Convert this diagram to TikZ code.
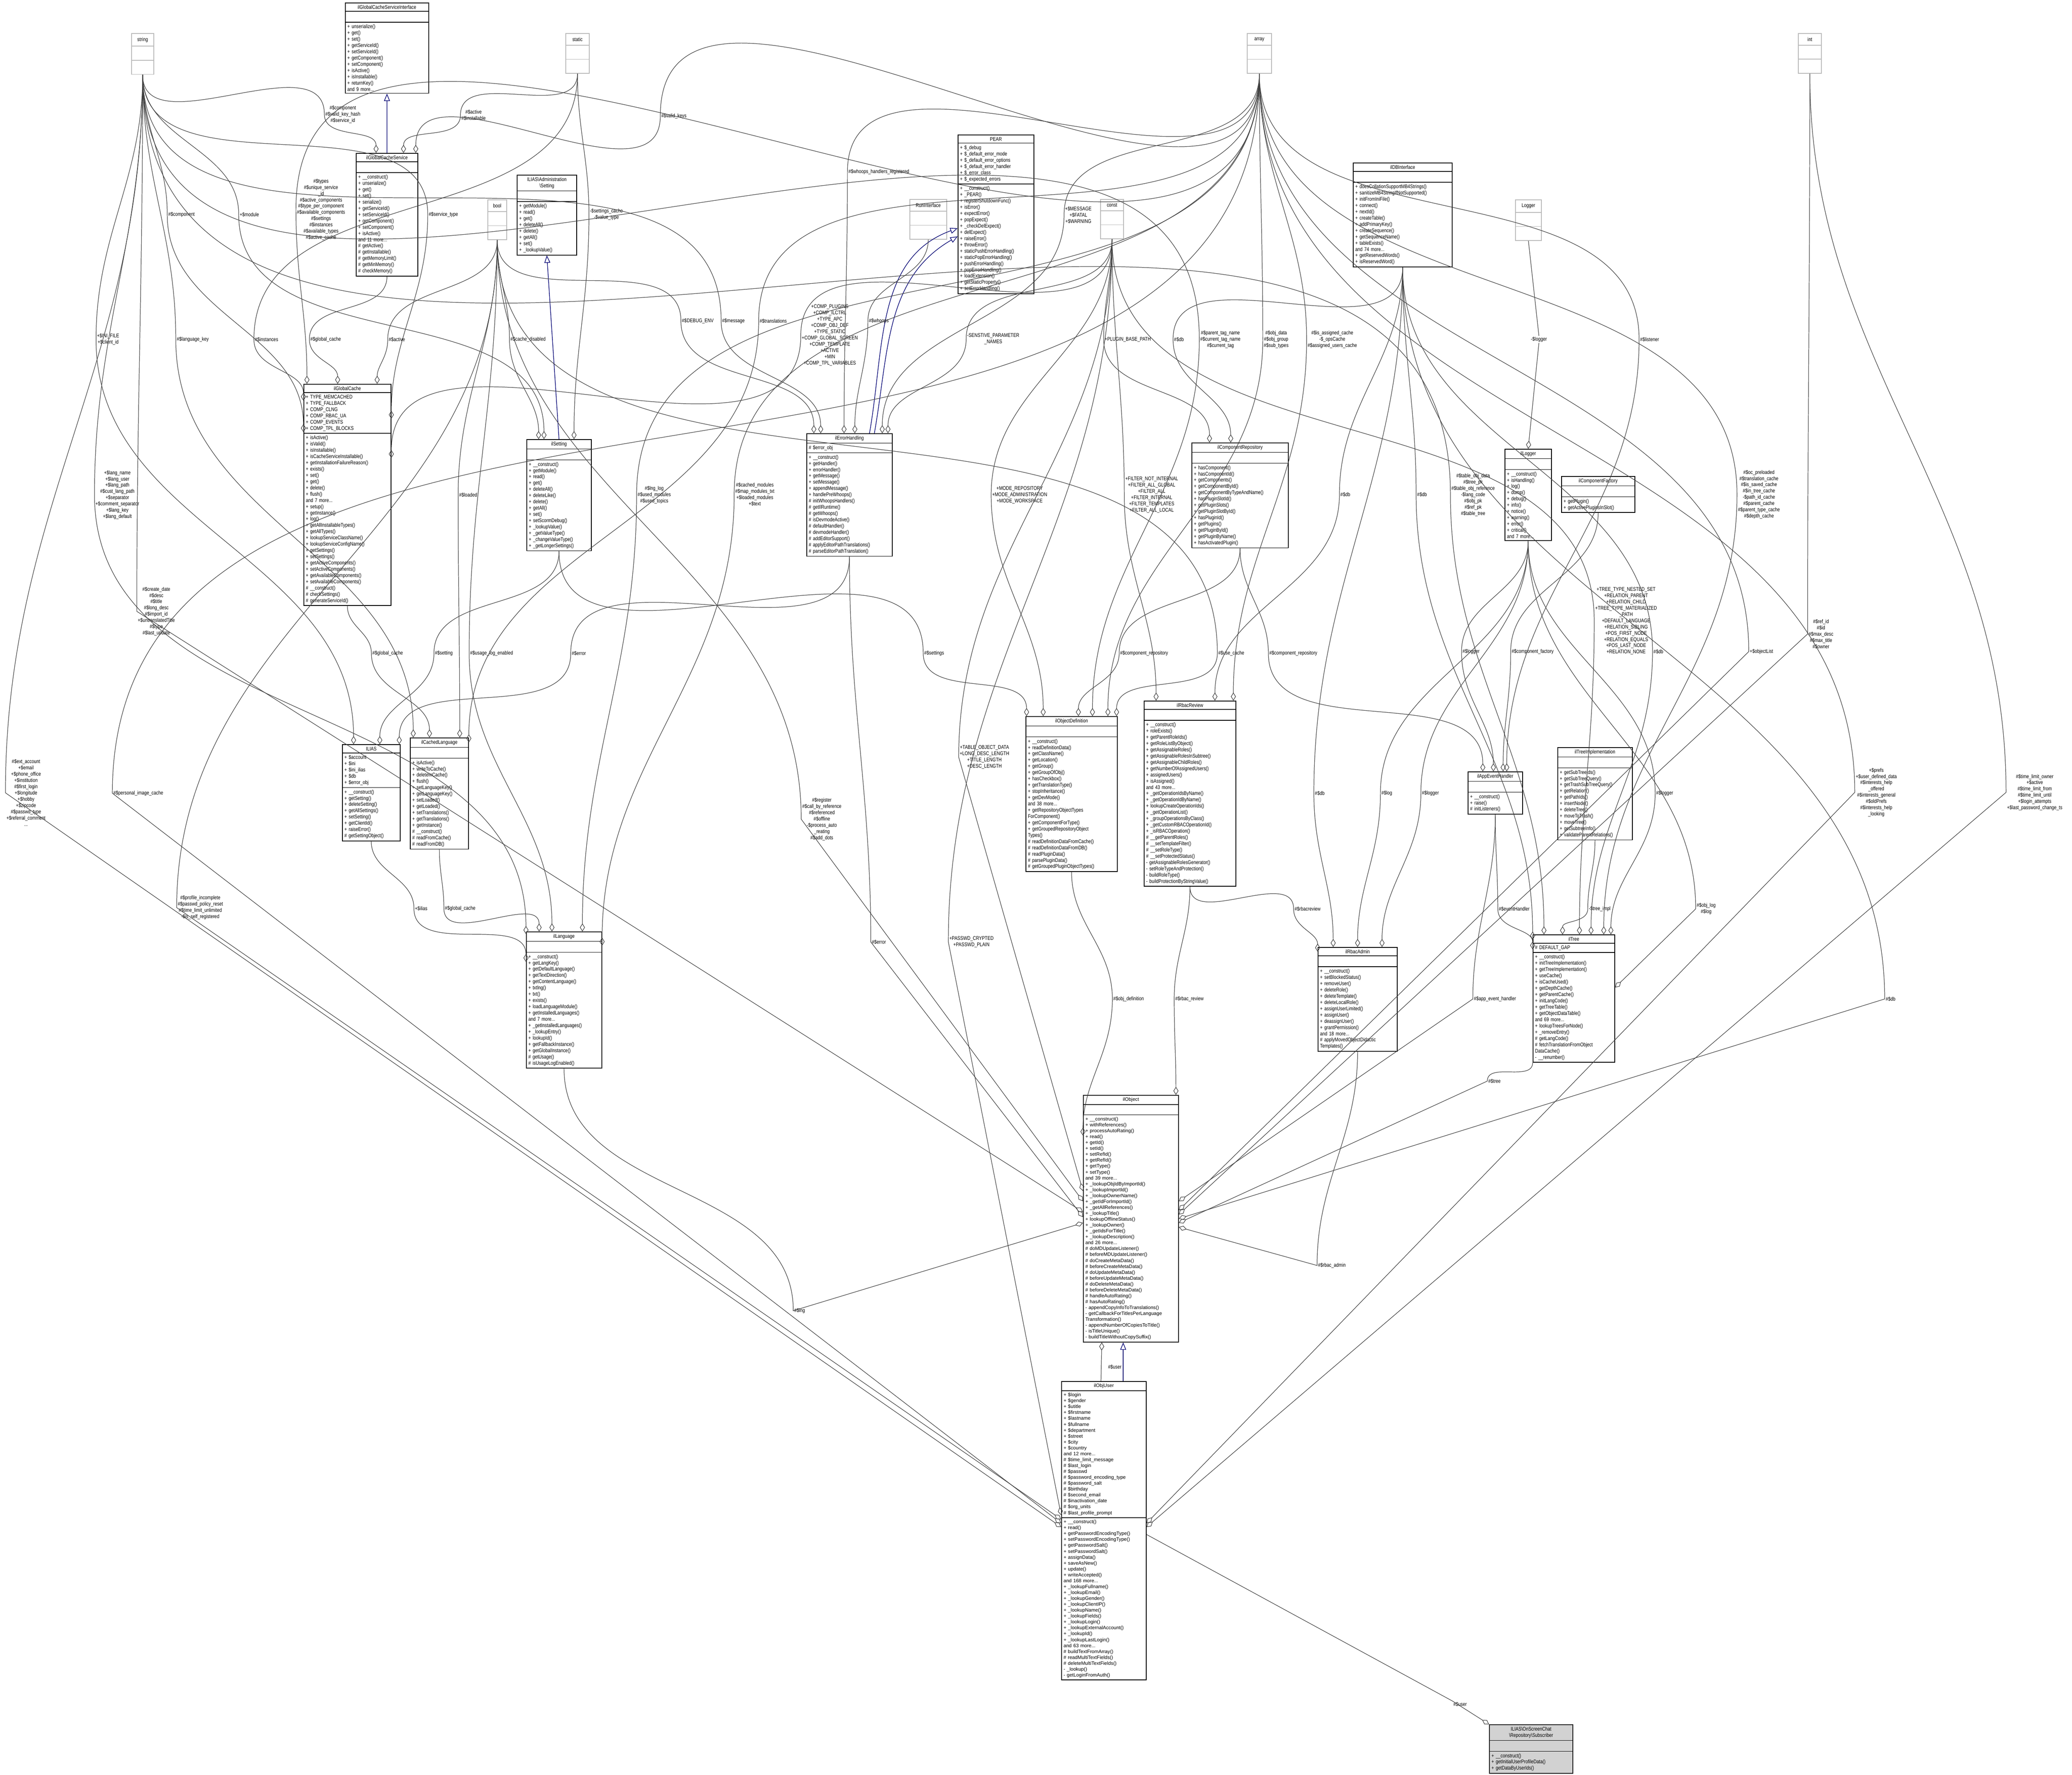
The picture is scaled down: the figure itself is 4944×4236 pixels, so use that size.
\documentclass[tikz,border=0pt]{standalone}
\usepackage{fontspec}
\setmainfont{Liberation Sans}[FakeStretch=0.82]
\newfontfamily\widefont{Liberation Sans}
\usetikzlibrary{shapes.multipart,arrows.meta,calc}
\tikzset{
 cls/.style={rectangle split, rectangle split parts=3, draw, line width=0.5pt, anchor=north west,
   inner xsep=1.4pt, inner ysep=1.3pt, font=\fontsize{3.6}{4.25}\selectfont, align=left},
 wcls/.style={cls, font=\widefont\fontsize{3.3}{4.0}\selectfont},
 gbox/.style={rectangle split, rectangle split parts=3, draw=gray!55, line width=0.5pt, anchor=north west,
   inner xsep=1.4pt, inner ysep=2.4pt, font=\fontsize{3.6}{4.25}\selectfont, align=center},
 lbl/.style={font=\fontsize{3.6}{4.25}\selectfont, align=center, inner sep=0.5pt},
 agg/.style={draw=black!75, line width=0.35pt, -{Diamond[open,length=5.5pt,width=3.4pt]}},
 inh/.style={draw=blue!45!black, line width=0.4pt, -{Triangle[open,length=5pt,width=4pt]}}
}
\newcommand\ed[3]{\draw[agg] (#1) to[out=-90,in=90] (#2) to[out=-90,in=90] (#3);}
\newcommand\eds[3]{\draw[agg] (#1) to[out=-90,in=90] (#2) -- (#3);}
\begin{document}
\begin{tikzpicture}[x=0.01cm,y=-0.01cm]
\fill[white] (0,0) rectangle (4944,4236);
\useasboundingbox (0,0) rectangle (4944,4236);

% ---------- gray type boxes
\node[gbox,minimum width=0.53cm] (string) at (313,79) {string\nodepart{second}\strut\nodepart{third}\strut};
\node[gbox,minimum width=0.56cm] (static) at (1349,79) {static\nodepart{second}\strut\nodepart{third}\strut};
\node[gbox,minimum width=0.45cm] (bool) at (1163,476) {bool\nodepart{second}\strut\nodepart{third}\strut};
\node[gbox,minimum width=0.88cm] (run) at (2170,475) {RunInterface\nodepart{second}\strut\nodepart{third}\strut};
\node[gbox,minimum width=0.55cm] (const) at (2625,475) {const\nodepart{second}\strut\nodepart{third}\strut};
\node[gbox,minimum width=0.58cm] (array) at (2975,79) {array\nodepart{second}\strut\nodepart{third}\strut};
\node[gbox,minimum width=0.55cm] (int) at (4290,79) {int\nodepart{second}\strut\nodepart{third}\strut};
\node[gbox,minimum width=0.62cm] (Logger) at (3615,476) {Logger\nodepart{second}\strut\nodepart{third}\strut};

% ---------- classes
\node[cls,text width=1.89cm] (gcsi) at (823,6) {{\centering ilGlobalCacheServiceInterface\par}\nodepart{second}\strut\nodepart{third}+ unserialize()\\+ get()\\+ set()\\+ getServiceId()\\+ setServiceId()\\+ getComponent()\\+ setComponent()\\+ isActive()\\+ isInstallable()\\+ returnKey()\\and 9 more...};

\node[cls,text width=1.37cm] (gcs) at (849,365) {{\centering ilGlobalCacheService\par}\nodepart{second}\strut\nodepart{third}+ \_\_construct()\\+ unserialize()\\+ get()\\+ set()\\+ serialize()\\+ getServiceId()\\+ setServiceId()\\+ getComponent()\\+ setComponent()\\+ isActive()\\and 11 more...\\\# getActive()\\\# getInstallable()\\\# getMemoryLimit()\\\# getMinMemory()\\\# checkMemory()};

\node[cls,text width=1.32cm] (adms) at (1233,417) {{\centering ILIAS\textbackslash Administration\\\textbackslash Setting\par}\nodepart{second}\strut\nodepart{third}+ getModule()\\+ read()\\+ get()\\+ deleteAll()\\+ delete()\\+ getAll()\\+ set()\\+ \_lookupValue()};

\node[cls,text width=1.98cm] (gc) at (724,916) {{\centering ilGlobalCache\par}\nodepart{second}+ TYPE\_MEMCACHED\\+ TYPE\_FALLBACK\\+ COMP\_CLNG\\+ COMP\_RBAC\_UA\\+ COMP\_EVENTS\\+ COMP\_TPL\_BLOCKS\nodepart{third}+ isActive()\\+ isValid()\\+ isInstallable()\\+ isCacheServiceInstallable()\\+ getInstallationFailureReason()\\+ exists()\\+ set()\\+ get()\\+ delete()\\+ flush()\\and 7 more...\\+ setup()\\+ getInstance()\\+ log()\\+ getAllInstallableTypes()\\+ getAllTypes()\\+ lookupServiceClassName()\\+ lookupServiceConfigName()\\+ getSettings()\\+ setSettings()\\+ getActiveComponents()\\+ setActiveComponents()\\+ getAvailableComponents()\\+ setAvailableComponents()\\\# \_\_construct()\\\# checkSettings()\\\# generateServiceId()};

\node[cls,text width=1.44cm] (set) at (1256,1048) {{\centering ilSetting\par}\nodepart{second}\strut\nodepart{third}+ \_\_construct()\\+ getModule()\\+ read()\\+ get()\\+ deleteAll()\\+ deleteLike()\\+ delete()\\+ getAll()\\+ set()\\+ setScormDebug()\\+ \_lookupValue()\\+ \_getValueType()\\+ \_changeValueType()\\+ \_getLongerSettings()};

\node[cls,text width=1.94cm] (err) at (1924,1034) {{\centering ilErrorHandling\par}\nodepart{second}\# \$error\_obj\nodepart{third}+ \_\_construct()\\+ getHandler()\\+ errorHandler()\\+ getMessage()\\+ setMessage()\\+ appendMessage()\\+ handlePreWhoops()\\\# initWhoopsHandlers()\\\# getIlRuntime()\\\# getWhoops()\\\# isDevmodeActive()\\\# defaultHandler()\\\# devmodeHandler()\\\# addEditorSupport()\\\# applyEditorPathTranslations()\\\# parseEditorPathTranslation()};

\node[cls,text width=1.71cm] (pear) at (2285,321) {{\centering PEAR\par}\nodepart{second}+ \$\_debug\\+ \$\_default\_error\_mode\\+ \$\_default\_error\_options\\+ \$\_default\_error\_handler\\+ \$\_error\_class\\+ \$\_expected\_errors\nodepart{third}+ \_\_construct()\\+ \_PEAR()\\+ registerShutdownFunc()\\+ isError()\\+ expectError()\\+ popExpect()\\+ \_checkDelExpect()\\+ delExpect()\\+ raiseError()\\+ throwError()\\+ staticPushErrorHandling()\\+ staticPopErrorHandling()\\+ pushErrorHandling()\\+ popErrorHandling()\\+ loadExtension()\\+ getStaticProperty()\\+ setErrorHandling()};

\node[cls,text width=2.26cm] (db) at (3228,388) {{\centering ilDBInterface\par}\nodepart{second}\strut\nodepart{third}+ doesCollationSupportMB4Strings()\\+ sanitizeMB4StringIfNotSupported()\\+ initFromIniFile()\\+ connect()\\+ nextId()\\+ createTable()\\+ addPrimaryKey()\\+ createSequence()\\+ getSequenceName()\\+ tableExists()\\and 74 more...\\+ getReservedWords()\\+ isReservedWord()};

\node[cls,text width=2.20cm] (crep) at (2843,1056) {{\centering ilComponentRepository\par}\nodepart{second}\strut\nodepart{third}+ hasComponent()\\+ hasComponentId()\\+ getComponents()\\+ getComponentById()\\+ getComponentByTypeAndName()\\+ hasPluginSlotId()\\+ getPluginSlots()\\+ getPluginSlotById()\\+ hasPluginId()\\+ getPlugins()\\+ getPluginById()\\+ getPluginByName()\\+ hasActivatedPlugin()};

\node[cls,text width=1.01cm] (log) at (3590,1071) {{\centering ilLogger\par}\nodepart{second}\strut\nodepart{third}+ \_\_construct()\\+ isHandling()\\+ log()\\+ dump()\\+ debug()\\+ info()\\+ notice()\\+ warning()\\+ error()\\+ critical()\\and 7 more...};

\node[cls,text width=1.65cm] (cfac) at (3725,1136) {{\centering ilComponentFactory\par}\nodepart{second}\strut\nodepart{third}+ getPlugin()\\+ getActivePluginsInSlot()};

\node[cls,text width=2.08cm] (odef) at (2447,1709) {{\centering ilObjectDefinition\par}\nodepart{second}\strut\nodepart{third}+ \_\_construct()\\+ readDefinitionData()\\+ getClassName()\\+ getLocation()\\+ getGroup()\\+ getGroupOfObj()\\+ hasCheckbox()\\+ getTranslationType()\\+ stopInheritance()\\+ getDevMode()\\and 38 more...\\+ getRepositoryObjectTypes\\ForComponent()\\+ getComponentForType()\\+ getGroupedRepositoryObject\\Types()\\\# readDefinitionDataFromCache()\\\# readDefinitionDataFromDB()\\\# readPluginData()\\\# parsePluginData()\\\# getGroupedPluginObjectTypes()};

\node[cls,text width=2.09cm] (rrev) at (2729,1672) {{\centering ilRbacReview\par}\nodepart{second}\strut\nodepart{third}+ \_\_construct()\\+ roleExists()\\+ getParentRoleIds()\\+ getRoleListByObject()\\+ getAssignableRoles()\\+ getAssignableRolesInSubtree()\\+ getAssignableChildRoles()\\+ getNumberOfAssignedUsers()\\+ assignedUsers()\\+ isAssigned()\\and 43 more...\\+ \_getOperationIdsByName()\\+ \_getOperationIdByName()\\+ lookupCreateOperationIds()\\+ \_getOperationList()\\+ \_groupOperationsByClass()\\+ \_getCustomRBACOperationId()\\+ \_isRBACOperation()\\\# \_\_getParentRoles()\\\# \_\_setTemplateFilter()\\\# \_\_setRoleType()\\\# \_\_setProtectedStatus()\\- getAssignableRolesGenerator()\\- setRoleTypeAndProtection()\\- buildRoleType()\\- buildProtectionByStringValue()};

\node[cls,text width=1.20cm] (aeh) at (3502,1841) {{\centering ilAppEventHandler\par}\nodepart{second}\strut\nodepart{third}+ \_\_construct()\\+ raise()\\\# initListeners()};

\node[cls,text width=1.68cm] (timpl) at (3716,1783) {{\centering ilTreeImplementation\par}\nodepart{second}\strut\nodepart{third}+ getSubTreeIds()\\+ getSubTreeQuery()\\+ getTrashSubTreeQuery()\\+ getRelation()\\+ getPathIds()\\+ insertNode()\\+ deleteTree()\\+ moveToTrash()\\+ moveTree()\\+ getSubtreeInfo()\\+ validateParentRelations()};

\node[cls,text width=1.79cm] (radm) at (3144,2260) {{\centering ilRbacAdmin\par}\nodepart{second}\strut\nodepart{third}+ \_\_construct()\\+ setBlockedStatus()\\+ removeUser()\\+ deleteRole()\\+ deleteTemplate()\\+ deleteLocalRole()\\+ assignUserLimited()\\+ assignUser()\\+ deassignUser()\\+ grantPermission()\\and 18 more...\\\# applyMovedObjectDidactic\\Templates()};

\node[cls,text width=1.85cm] (tree) at (3657,2230) {{\centering ilTree\par}\nodepart{second}\# DEFAULT\_GAP\nodepart{third}+ \_\_construct()\\+ initTreeImplementation()\\+ getTreeImplementation()\\+ useCache()\\+ isCacheUsed()\\+ getDepthCache()\\+ getParentCache()\\+ initLangCode()\\+ getTreeTable()\\+ getObjectDataTable()\\and 69 more...\\+ lookupTreesForNode()\\+ \_removeEntry()\\\# getLangCode()\\\# fetchTranslationFromObject\\DataCache()\\- \_\_renumber()};

\node[cls,text width=1.28cm] (ilias) at (816,1776) {{\centering ILIAS\par}\nodepart{second}+ \$account\\+ \$ini\\+ \$ini\_ilias\\+ \$db\\+ \$error\_obj\nodepart{third}+ \_\_construct()\\+ getSetting()\\+ deleteSetting()\\+ getAllSettings()\\+ setSetting()\\+ getClientId()\\+ raiseError()\\\# getSettingObject()};

\node[cls,text width=1.29cm] (clng) at (978,1760) {{\centering ilCachedLanguage\par}\nodepart{second}\strut\nodepart{third}+ isActive()\\+ writeToCache()\\+ deleteInCache()\\+ flush()\\+ setLanguageKey()\\+ getLanguageKey()\\+ setLoaded()\\+ getLoaded()\\+ setTranslations()\\+ getTranslations()\\+ getInstance()\\\# \_\_construct()\\\# readFromCache()\\\# readFromDB()};

\node[cls,text width=1.70cm] (lng) at (1255,2223) {{\centering ilLanguage\par}\nodepart{second}\strut\nodepart{third}+ \_\_construct()\\+ getLangKey()\\+ getDefaultLanguage()\\+ getTextDirection()\\+ getContentLanguage()\\+ txtlng()\\+ txt()\\+ exists()\\+ loadLanguageModule()\\+ getInstalledLanguages()\\and 7 more...\\+ \_getInstalledLanguages()\\+ \_lookupEntry()\\+ lookupId()\\+ getFallbackInstance()\\+ getGlobalInstance()\\\# getUsage()\\\# isUsageLogEnabled()};

\node[wcls,text width=2.17cm] (obj) at (2584,2613) {{\centering ilObject\par}\nodepart{second}\strut\nodepart{third}+ \_\_construct()\\+ withReferences()\\+ processAutoRating()\\+ read()\\+ getId()\\+ setId()\\+ setRefId()\\+ getRefId()\\+ getType()\\+ setType()\\and 39 more...\\+ \_lookupObjIdByImportId()\\+ \_lookupImportId()\\+ \_lookupOwnerName()\\+ \_getIdForImportId()\\+ \_getAllReferences()\\+ \_lookupTitle()\\+ lookupOfflineStatus()\\+ \_lookupOwner()\\+ \_getIdsForTitle()\\+ \_lookupDescription()\\and 26 more...\\\# doMDUpdateListener()\\\# beforeMDUpdateListener()\\\# doCreateMetaData()\\\# beforeCreateMetaData()\\\# doUpdateMetaData()\\\# beforeUpdateMetaData()\\\# doDeleteMetaData()\\\# beforeDeleteMetaData()\\\# handleAutoRating()\\\# hasAutoRating()\\- appendCopyInfoToTranslations()\\- getCallbackForTitlesPerLanguage\\Transformation()\\- appendNumberOfCopiesToTitle()\\- isTitleUnique()\\- buildTitleWithoutCopySuffix()};

\node[wcls,text width=1.92cm] (user) at (2532,3296) {{\centering ilObjUser\par}\nodepart{second}+ \$login\\+ \$gender\\+ \$utitle\\+ \$firstname\\+ \$lastname\\+ \$fullname\\+ \$department\\+ \$street\\+ \$city\\+ \$country\\and 12 more...\\\# \$time\_limit\_message\\\# \$last\_login\\\# \$passwd\\\# \$password\_encoding\_type\\\# \$password\_salt\\\# \$birthday\\\# \$second\_email\\\# \$inactivation\_date\\\# \$org\_units\\\# \$last\_profile\_prompt\nodepart{third}+ \_\_construct()\\+ read()\\+ getPasswordEncodingType()\\+ setPasswordEncodingType()\\+ getPasswordSalt()\\+ setPasswordSalt()\\+ assignData()\\+ saveAsNew()\\+ update()\\+ writeAccepted()\\and 168 more...\\+ \_lookupFullname()\\+ \_lookupEmail()\\+ \_lookupGender()\\+ \_lookupClientIP()\\+ \_lookupName()\\+ \_lookupFields()\\+ \_lookupLogin()\\+ \_lookupExternalAccount()\\+ \_lookupId()\\+ \_lookupLastLogin()\\and 63 more...\\\# buildTextFromArray()\\\# readMultiTextFields()\\\# deleteMultiTextFields()\\- \_lookup()\\- getLoginFromAuth()};

\node[cls,text width=1.89cm,fill=gray!35] (sub) at (3553,4115) {{\centering ILIAS\textbackslash OnScreenChat\\\textbackslash Repository\textbackslash Subscriber\par}\nodepart{second}\strut\nodepart{third}+ \_\_construct()\\+ getInitialUserProfileData()\\+ getDataByUserIds()};

% ---------- inheritance
\draw[inh] (gcs.north) -- (gcsi.south);
\draw[inh] (set.north) -- (adms.south);
\draw[inh] (err.72) to[out=80,in=200] (pear.200);
\draw[inh] (err.68) to[out=80,in=210] (pear.210);
\draw[inh] ($(user.north west)+(148,0)$) -- ($(obj.south west)+(96,0)$);

% ---------- labels
\node[lbl] (L1) at (818,273) {\#\$component\\\#\$valid\_key\_hash\\\#\$service\_id};
\node[lbl] (L2) at (1130,275) {\#\$active\\\#\$installable};
\node[lbl] (L3) at (1608,277) {\#\$valid\_keys};
\node[lbl] (L4) at (433,512) {\#\$component};
\node[lbl] (L5) at (595,512) {+\$module};
\node[lbl] (L6) at (766,500) {\#\$types\\\#\$unique\_service\\\_id\\\#\$active\_components\\\#\$type\_per\_component\\\#\$available\_components\\\#\$settings\\\#\$instances\\\#\$available\_types\\\#\$active\_cache};
\node[lbl] (L7) at (1058,512) {\#\$service\_type};
\node[lbl] (L8) at (1447,512) {-\$settings\_cache\\-\$value\_type};
\node[lbl] (L9) at (258,810) {+\$INI\_FILE\\+\$client\_id};
\node[lbl] (L10) at (460,810) {\#\$language\_key};
\node[lbl] (L11) at (636,810) {\#\$instances};
\node[lbl] (L12) at (777,810) {\#\$global\_cache};
\node[lbl] (L13) at (947,810) {\#\$active};
\node[lbl] (L14) at (1260,810) {\#\$cache\_disabled};
\node[lbl] (L15) at (1117,1181) {\#\$loaded};
\node[lbl] (L16) at (280,1181) {+\$lang\_name\\+\$lang\_user\\+\$lang\_path\\\#\$cust\_lang\_path\\+\$separator\\+\$comment\_separator\\+\$lang\_key\\+\$lang\_default};
\node[lbl] (L17) at (373,1459) {\#\$create\_date\\\#\$desc\\\#\$title\\\#\$long\_desc\\\#\$import\_id\\+\$untranslatedTitle\\\#\$type\\\#\$last\_update};
\node[lbl] (L18) at (62,1892) {\#\$ext\_account\\+\$email\\+\$phone\_office\\+\$institution\\\#\$first\_login\\+\$longitude\\+\$hobby\\+\$zipcode\\\#\$passwd\_type\\+\$referral\_comment\\...};
\node[lbl] (L19) at (330,1893) {\#\$personal\_image\_cache};
\node[lbl] (L20) at (478,2166) {\#\$profile\_incomplete\\\#\$passwd\_policy\_reset\\\#\$time\_limit\_unlimited\\-\$is\_self\_registered};
\node[lbl] (L21) at (925,1559) {\#\$global\_cache};
\node[lbl] (L22) at (1059,1559) {\#\$setting};
\node[lbl] (L23) at (1173,1559) {\#\$usage\_log\_enabled};
\node[lbl] (L24) at (1381,1559) {\#\$error};
\node[lbl] (L25) at (1005,2168) {+\$ilias};
\node[lbl] (L26) at (1098,2168) {\#\$global\_cache};
\node[lbl] (L27) at (1561,1181) {\#\$lng\_log\\\#\$used\_modules\\\#\$used\_topics};
\node[lbl] (L28) at (1801,1180) {\#\$cached\_modules\\\#\$map\_modules\_txt\\+\$loaded\_modules\\+\$text};
\node[lbl] (L29) at (1750,766) {\#\$message};
\node[lbl] (L30) at (1665,766) {\#\$DEBUG\_ENV};
\node[lbl] (L31) at (1845,766) {\#\$translations};
\node[lbl] (L32) at (2097,410) {\#\$whoops\_handlers\_registered};
\node[lbl] (L33) at (2097,766) {\#\$whoops};
\node[lbl] (L34) at (1980,800) {+COMP\_PLUGINS\\+COMP\_ILCTRL\\+TYPE\_APC\\+COMP\_OBJ\_DEF\\+TYPE\_STATIC\\+COMP\_GLOBAL\_SCREEN\\+COMP\_TEMPLATE\\+ACTIVE\\+MIN\\+COMP\_TPL\_VARIABLES};
\node[lbl] (L35) at (2573,513) {+\$MESSAGE\\+\$FATAL\\+\$WARNING};
\node[lbl] (L36) at (2370,809) {-SENSTIVE\_PARAMETER\\\_NAMES};
\node[lbl] (L37) at (2691,810) {+PLUGIN\_BASE\_PATH};
\node[lbl] (L38) at (2813,810) {\#\$db};
\node[lbl] (L39) at (2912,810) {\#\$parent\_tag\_name\\\#\$current\_tag\_name\\\#\$current\_tag};
\node[lbl] (L40) at (3045,810) {\#\$obj\_data\\\#\$obj\_group\\\#\$sub\_types};
\node[lbl] (L41) at (3179,810) {\#\$is\_assigned\_cache\\-\$\_opsCache\\\#\$assigned\_users\_cache};
\node[lbl] (L42) at (3672,810) {-\$logger};
\node[lbl] (L43) at (3936,810) {\#\$listener};
\node[lbl] (L44) at (2433,1181) {+MODE\_REPOSITORY\\+MODE\_ADMINISTRATION\\+MODE\_WORKSPACE};
\node[lbl] (L45) at (2748,1181) {+FILTER\_NOT\_INTERNAL\\+FILTER\_ALL\_GLOBAL\\+FILTER\_ALL\\+FILTER\_INTERNAL\\+FILTER\_TEMPLATES\\+FILTER\_ALL\_LOCAL};
\node[lbl] (L46) at (3210,1180) {\#\$db};
\node[lbl] (L47) at (3393,1180) {\#\$db};
\node[lbl] (L48) at (3515,1181) {\#\$table\_obj\_data\\\#\$tree\_pk\\\#\$table\_obj\_reference\\-\$lang\_code\\\#\$obj\_pk\\\#\$ref\_pk\\\#\$table\_tree};
\node[lbl] (L49) at (4197,1180) {\#\$oc\_preloaded\\\#\$translation\_cache\\\#\$is\_saved\_cache\\\#\$in\_tree\_cache\\-\$path\_id\_cache\\\#\$parent\_cache\\\#\$parent\_type\_cache\\\#\$depth\_cache};
\node[lbl] (L50) at (2229,1559) {\#\$settings};
\node[lbl] (L51) at (2730,1559) {\#\$component\_repository};
\node[lbl] (L52) at (2938,1559) {\#\$use\_cache};
\node[lbl] (L53) at (3086,1559) {\#\$component\_repository};
\node[lbl] (L54) at (3510,1555) {\#\$logger};
\node[lbl] (L55) at (3657,1555) {\#\$component\_factory};
\node[lbl] (L56) at (3880,1482) {+TREE\_TYPE\_NESTED\_SET\\+RELATION\_PARENT\\+RELATION\_CHILD\\+TREE\_TYPE\_MATERIALIZED\\\_PATH\\+DEFAULT\_LANGUAGE\\+RELATION\_SIBLING\\+POS\_FIRST\_NODE\\+RELATION\_EQUALS\\+POS\_LAST\_NODE\\+RELATION\_NONE};
\node[lbl] (L57) at (3957,1555) {\#\$db};
\node[lbl] (L58) at (4203,1555) {+\$objectList};
\node[lbl] (L60) at (4345,1513) {\#\$ref\_id\\\#\$id\\\#\$max\_desc\\\#\$max\_title\\\#\$owner};
\node[lbl] (L62) at (4477,1891) {+\$prefs\\+\$user\_defined\_data\\\#\$interests\_help\\\_offered\\\#\$interests\_general\\\#\$oldPrefs\\\#\$interests\_help\\\_looking};
\node[lbl] (L63) at (4855,1891) {\#\$time\_limit\_owner\\+\$active\\\#\$time\_limit\_from\\\#\$time\_limit\_until\\+\$login\_attempts\\+\$last\_password\_change\_ts};
\node[lbl] (L59a) at (3149,1893) {\#\$db};
\node[lbl] (L59b) at (3309,1893) {\#\$log};
\node[lbl] (L59c) at (3413,1893) {\#\$logger};
\node[lbl] (L64) at (3972,1893) {\#\$logger};
\node[lbl] (L65) at (4071,2169) {\#\$obj\_log\\\#\$log};
\node[lbl] (L66) at (3613,2169) {\#\$eventHandler};
\node[lbl] (L67) at (3817,2169) {-\$tree\_impl};
\node[lbl] (L68) at (3567,2384) {\#\$app\_event\_handler};
\node[lbl] (L69) at (3566,2580) {\#\$tree};
\node[lbl] (L70) at (4511,2384) {\#\$db};
\node[lbl] (L71) at (3120,2169) {\#\$rbacreview};
\node[lbl] (L72) at (2693,2384) {\#\$obj\_definition};
\node[lbl] (L73) at (2838,2384) {\#\$rbac\_review};
\node[lbl] (L74) at (3178,3020) {\#\$rbac\_admin};
\node[lbl] (L75) at (1908,3128) {\#\$lng};
\node[lbl] (L76) at (2097,2248) {\#\$error};
\node[lbl] (L77) at (2318,2248) {+PASSWD\_CRYPTED\\+PASSWD\_PLAIN};
\node[lbl] (L78) at (2349,1807) {+TABLE\_OBJECT\_DATA\\+LONG\_DESC\_LENGTH\\+TITLE\_LENGTH\\+DESC\_LENGTH};
\node[lbl] (L79) at (1961,1955) {\#\$register\\\#\$call\_by\_reference\\\#\$referenced\\\#\$offline\\-\$process\_auto\\\_reating\\\#\$add\_dots};
\node[lbl] (L80) at (2660,3262) {\#\$user};
\node[lbl] (L81) at (3484,4067) {\#\$user};

% ---------- aggregation edges
\ed{string.south}{L1.west}{gcs.100}
\ed{static.south}{L2.west}{gcs.75}
\ed{array.south}{L3.west}{gcs.65}
\ed{string.south}{L4.west}{gc.125}
\ed{string.south}{L5.west}{set.105}
\ed{array.south}{L6.west}{gc.110}
\ed{string.south}{L7.west}{gc.60}
\ed{static.south}{L8.west}{set.75}
\ed{string.south}{L9.west}{ilias.110}
\ed{string.south}{L10.west}{clng.115}
\ed{static.south}{L11.west}{gc.115}
\ed{gcs.south}{L12.west}{gc.95}
\ed{bool.south}{L13.west}{gc.75}
\ed{bool.south}{L14.west}{set.110}
\ed{bool.south}{L15.west}{clng.70}
\ed{string.south}{L16.west}{lng.120}
\eds{string.south}{L17.west}{obj.172}
\eds{string.south}{L18.west}{user.175}
\eds{array.south}{L19.west}{user.170}
\eds{bool.south}{L20.west}{user.165}
\ed{gc.south}{L21.west}{clng.100}
\ed{set.south}{L22.west}{ilias.80}
\ed{bool.south}{L23.west}{lng.100}
\ed{err.south}{L24.west}{ilias.60}
\ed{ilias.south}{L25.west}{lng.135}
\ed{clng.south}{L26.west}{lng.110}
\ed{array.south}{L27.west}{lng.75}
\ed{array.south}{L28.west}{lng.55}
\ed{string.south}{L29.west}{err.115}
\ed{bool.south}{L30.west}{err.120}
\ed{array.south}{L31.west}{clng.60}
\ed{array.south}{L32.west}{err.95}
\ed{run.south}{L33.west}{err.85}
\ed{const.south}{L34.west}{gc.40}
\ed{array.south}{L35.west}{err.62}
\ed{const.south}{L36.west}{err.58}
\ed{const.south}{L37.west}{crep.120}
\ed{db.south}{L38.west}{crep.100}
\ed{string.south}{L39.west}{odef.75}
\ed{array.south}{L40.west}{odef.65}
\ed{array.south}{L41.west}{rrev.65}
\draw[agg] (Logger.south) -- (L42.north) (L42.south) -- (log.north);
\ed{array.south}{L43.west}{aeh.62}
\ed{const.south}{L44.west}{odef.110}
\ed{const.south}{L45.west}{rrev.110}
\ed{db.south}{L46.west}{rrev.75}
\ed{db.south}{L47.west}{tree.125}
\ed{string.south}{L48.west}{tree.115}
\ed{array.south}{L49.west}{tree.65}
\ed{set.south}{L50.west}{odef.120}
\ed{crep.south}{L51.west}{odef.85}
\ed{bool.south}{L52.west}{odef.60}
\ed{crep.south}{L53.west}{aeh.120}
\ed{log.south}{L54.west}{aeh.95}
\ed{cfac.south}{L55.west}{aeh.70}
\ed{const.south}{L56.west}{tree.85}
\ed{db.south}{L57.west}{tree.75}
\eds{array.south}{L58.west}{obj.10}
\eds{int.south}{L60.west}{obj.5}
\eds{array.south}{L62.west}{user.10}
\eds{int.south}{L63.west}{user.5}
\ed{db.south}{L59a.west}{radm.115}
\ed{log.south}{L59b.west}{radm.90}
\ed{log.south}{L59c.west}{radm.65}
\ed{log.south}{L64.west}{tree.60}
\eds{log.south}{L65.west}{tree.15}
\ed{aeh.south}{L66.west}{tree.130}
\ed{timpl.south}{L67.west}{tree.100}
\eds{aeh.south}{L68.west}{obj.20}
\eds{tree.south west}{L69.west}{obj.-5}
\eds{db.south}{L70.west}{obj.0}
\ed{rrev.south}{L71.west}{radm.130}
\ed{odef.south}{L72.west}{obj.120}
\ed{rrev.south}{L73.west}{obj.70}
\eds{radm.south}{L74.west}{obj.-10}
\eds{lng.south}{L75.west}{obj.185}
\eds{err.south}{L76.west}{obj.178}
\eds{const.south}{L77.west}{user.160}
\eds{const.south}{L78.west}{obj.150}
\eds{bool.south}{L79.west}{obj.160}
\draw[agg] ($(user.north west)+(95,0)$) -- ($(obj.south west)+(45,0)$);
\draw[agg] (user.-5) -- (L81.north west) -- (sub.north west);
\end{tikzpicture}
\end{document}
